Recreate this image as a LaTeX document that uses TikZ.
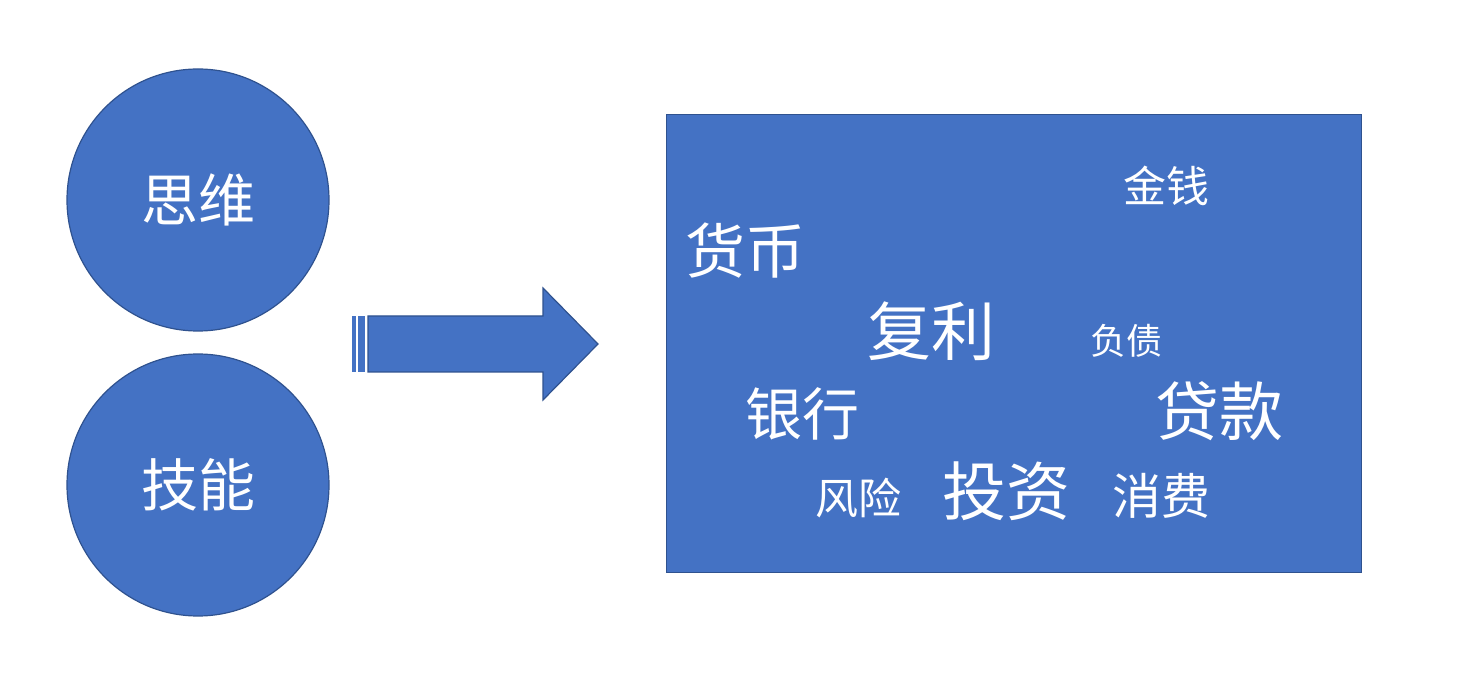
\documentclass[tikz,border=0pt]{standalone}
\usepackage{fontspec}
\newfontfamily\cjk{Noto Sans CJK SC}
\definecolor{fillb}{HTML}{4472C4}
\definecolor{edgeb}{HTML}{2F528F}
\begin{document}
\begin{tikzpicture}[x=1pt,y=-1pt,
  shp/.style={fill=fillb,draw=edgeb,line width=1.2pt},
  wd/.style={text=white,inner sep=0pt,font=\cjk}]
\useasboundingbox (0,0) rectangle (1457,692);
\node[shp,circle,minimum size=262pt] (c1) at (198,200) {};
\node[shp,circle,minimum size=262pt] (c2) at (198,485) {};
\node[wd,font=\cjk\fontsize{57}{60}\selectfont] (t1) at (c1) {思维};
\node[wd,font=\cjk\fontsize{57}{60}\selectfont] (t2) at (c2) {技能};
\fill[fillb] (352,316) rectangle (356,372);
\fill[fillb] (358,316) rectangle (365,372);
\draw[shp] (368,316) -- (543,316) -- (543,288) -- (598,344) -- (543,400) -- (543,372) -- (368,372) -- cycle;
\node[shp,rectangle,minimum width=695pt,minimum height=458pt,anchor=north west] (box) at (666,114) {};
\node[wd,font=\cjk\fontsize{43}{45}\selectfont] (w1) at (1166,186) {金钱};
\node[wd,font=\cjk\fontsize{60}{62}\selectfont] (w2) at (745,251) {货币};
\node[wd,font=\cjk\fontsize{64}{66}\selectfont] (w3) at (931,331) {复利};
\node[wd,font=\cjk\fontsize{36}{38}\selectfont] (w4) at (1126,341) {负债};
\node[wd,font=\cjk\fontsize{57}{60}\selectfont] (w5) at (802,414) {银行};
\node[wd,font=\cjk\fontsize{64}{66}\selectfont] (w6) at (1219,411) {贷款};
\node[wd,font=\cjk\fontsize{43}{45}\selectfont] (w7) at (858,498) {风险};
\node[wd,font=\cjk\fontsize{64}{66}\selectfont] (w8) at (1006,491) {投资};
\node[wd,font=\cjk\fontsize{49}{51}\selectfont] (w9) at (1161,496) {消费};
\end{tikzpicture}
\end{document}
